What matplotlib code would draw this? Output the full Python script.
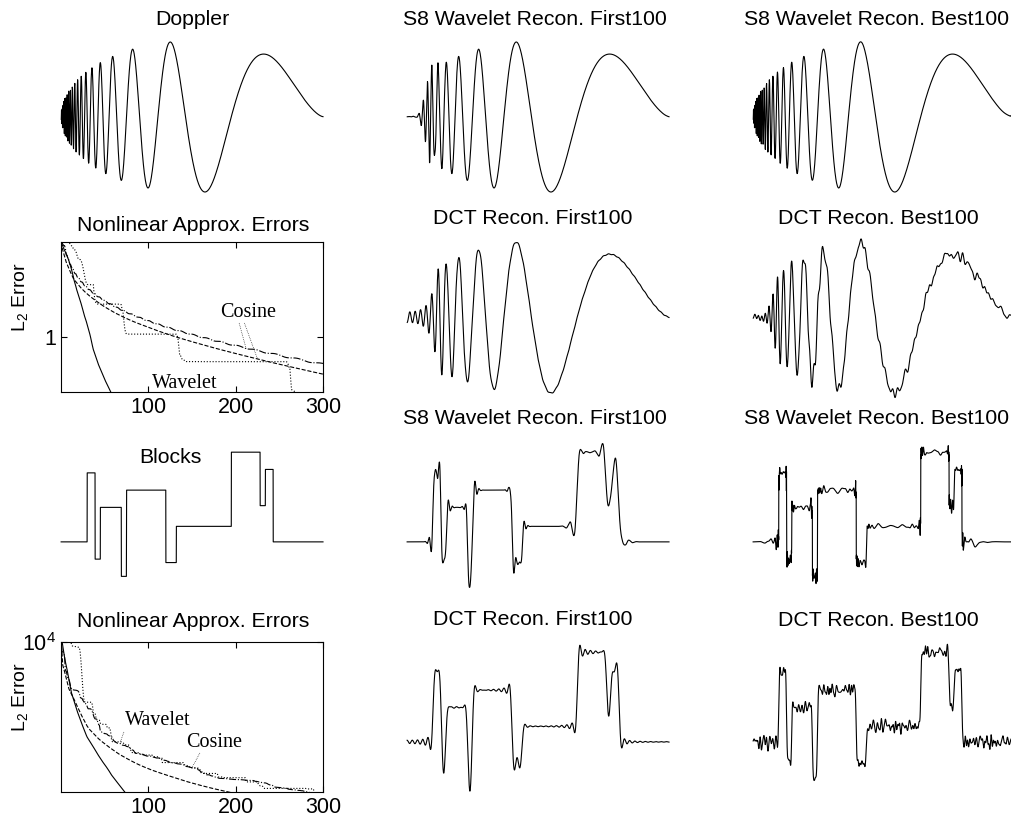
import numpy as np
import matplotlib
matplotlib.use("Agg")
import matplotlib.pyplot as plt

plt.rcParams['font.family'] = ['Liberation Sans', 'DejaVu Sans']
plt.rcParams['mathtext.fontset'] = 'custom'
plt.rcParams['mathtext.rm'] = 'Liberation Sans'
plt.rcParams['mathtext.default'] = 'regular'

# ---- signal definitions (WaveLab test signals) ----
N_DOP = 1024
N_BLK = 2048
N_KEEP = 100
K_MAX = 300
COARSE = 5
BLOCK_POS = [0.10, 0.13, 0.15, 0.23, 0.25, 0.40, 0.44, 0.65, 0.76, 0.78, 0.81]
BLOCK_HGT = [4.0, -5.0, 3.0, -4.0, 5.0, -4.2, 2.1, 4.3, -3.1, 2.1, -4.2]
DOP_EPS = 0.05
DOP_FREQ = 1.05
SYMMLET8 = [-0.0033824159510050025955, -0.00054213233180001068935,
            0.031695087811525991431, 0.0076074873249766081919,
            -0.14329423835127266284, -0.061273359067811077843,
            0.48135965125905339159, 0.77718575169962802862,
            0.36444189483617893676, -0.051945838107881800736,
            -0.027219029917103486322, 0.049137179673730286787,
            0.0038087520138944894631, -0.014952258337062199118,
            -0.00030292051472413308126, 0.0018899503327676891843]


def doppler(n):
    t = np.arange(1, n + 1) / n
    return t, np.sqrt(t * (1 - t)) * np.sin(2 * np.pi * DOP_FREQ / (t + DOP_EPS))


def blocks(n):
    t = np.arange(1, n + 1) / n
    sig = np.zeros(n)
    for p, h in zip(BLOCK_POS, BLOCK_HGT):
        sig += (1 + np.sign(t - p)) * h / 2
    return t, sig


def dct_matrix(n):
    k = np.arange(n)[:, None]
    i = np.arange(n)[None, :]
    c = np.sqrt(2.0 / n) * np.cos(np.pi * k * (i + 0.5) / n)
    c[0] /= np.sqrt(2)
    return c


def wavelet_levels(n):
    # periodised orthogonal analysis step for every level, finest first
    h = np.array(SYMMLET8)
    h = h / h.sum() * np.sqrt(2)
    g = (-1) ** np.arange(len(h)) * h[::-1]
    off = len(h) // 2 - 1
    mats = []
    m = n
    while m > 2 ** COARSE:
        s = np.zeros((m, m))
        for i in range(m // 2):
            for k in range(len(h)):
                c = (2 * i + k - off) % m
                s[i, c] += h[k]
                s[m // 2 + i, c] += g[k]
        mats.append(s)
        m //= 2
    return mats


def fwt(x, mats):
    y = x.copy()
    for s in mats:
        m = s.shape[0]
        y[:m] = s @ y[:m]
    return y


def iwt(c, mats):
    y = c.copy()
    for s in reversed(mats):
        m = s.shape[0]
        y[:m] = s.T @ y[:m]
    return y


def keep_first(c, k):
    d = np.zeros_like(c)
    d[:k] = c[:k]
    return d


def keep_best(c, k):
    d = np.zeros_like(c)
    idx = np.argsort(-np.abs(c))[:k]
    d[idx] = c[idx]
    return d


def err_curve(c, best):
    e = c ** 2
    if best:
        e = np.sort(e)[::-1]
    tot = e.sum()
    r = tot - np.concatenate([[0.0], np.cumsum(e)])
    return np.maximum(r[:K_MAX + 1], 1e-12)


def analyse(sig):
    n = len(sig)
    mats = wavelet_levels(n)
    dm = dct_matrix(n)
    wc = fwt(sig, mats)
    cc = dm @ sig
    rec = {
        'w_first': iwt(keep_first(wc, N_KEEP), mats),
        'w_best': iwt(keep_best(wc, N_KEEP), mats),
        'c_first': dm.T @ keep_first(cc, N_KEEP),
        'c_best': dm.T @ keep_best(cc, N_KEEP),
    }
    errs = {
        'w_nl': err_curve(wc, True),
        'w_lin': err_curve(wc, False),
        'c_nl': err_curve(cc, True),
        'c_lin': err_curve(cc, False),
    }
    return rec, errs


t_d, s_d = doppler(N_DOP)
t_b, s_b = blocks(N_BLK)
rec_d, err_d = analyse(s_d)
rec_b, err_b = analyse(s_b)

W, H = 1011, 827
fig = plt.figure(figsize=(W / 100, H / 100), dpi=100)


def px_axes(x0, x1, y0, y1):
    return fig.add_axes([x0 / W, 1 - y1 / H, (x1 - x0) / W, (y1 - y0) / H])


COLS = [(61, 323), (407, 669), (753, 1011)]
LW = 0.8


def sig_panel(col, y0, y1, t, y, ylim):
    ax = px_axes(COLS[col][0], COLS[col][1], y0, y1)
    ax.plot(t, y, color='k', lw=LW, clip_on=False)
    ax.set_xlim(0, 1)
    ax.set_ylim(*ylim)
    ax.axis('off')
    return ax


dlim = (s_d.min(), s_d.max())
sig_panel(0, 42, 192, t_d, s_d, dlim)
sig_panel(1, 42, 192, t_d, rec_d['w_first'], dlim)
sig_panel(2, 42, 192, t_d, rec_d['w_best'], dlim)
sig_panel(1, 242, 393, t_d, rec_d['c_first'], dlim)
sig_panel(2, 242, 393, t_d, rec_d['c_best'], dlim)

blim = (-2.5, 5.5)
sig_panel(0, 447, 585, t_b, s_b, blim)
sig_panel(1, 447, 585, t_b, rec_b['w_first'], blim)
sig_panel(2, 447, 585, t_b, rec_b['w_best'], blim)
sig_panel(1, 647, 785, t_b, rec_b['c_first'], blim)
sig_panel(2, 647, 785, t_b, rec_b['c_best'], blim)

k = np.arange(K_MAX + 1)
STYLES = {'w_nl': '-', 'c_nl': '--', 'c_lin': '-.', 'w_lin': ':'}
SERIF = ['Liberation Serif', 'DejaVu Serif']


def err_panel(y0, y1, errs, ylim, ytick, ylab):
    ax = px_axes(61, 323, y0, y1)
    for key, ls in STYLES.items():
        ax.plot(k, errs[key], color='k', ls=ls, lw=LW)
    ax.set_yscale('log')
    ax.set_xlim(0, K_MAX)
    ax.set_ylim(*ylim)
    ax.set_xticks([100, 200, 300])
    ax.set_yticks([ytick])
    ax.set_yticklabels([ylab])
    ax.yaxis.set_minor_locator(matplotlib.ticker.NullLocator())
    ax.tick_params(direction='in', top=True, right=True, labelsize=15.5, length=4)
    ax.set_ylabel('L$_2$ Error', fontsize=14)
    ax.yaxis.set_label_coords(-0.12, 0.63)
    return ax


def label(ax, errs, text, xy_frac, targets):
    ax.text(xy_frac[0], xy_frac[1], text, transform=ax.transAxes,
            family=SERIF, fontsize=14.5, va='center', ha='left')
    for start, kk, key in targets:
        p0 = ax.transData.inverted().transform(ax.transAxes.transform(start))
        ax.plot([p0[0], kk], [p0[1], errs[key][kk]], color='k', lw=0.5, ls=':')


ax_e1 = err_panel(242, 392, err_d, (err_d['w_nl'][57], err_d['w_nl'][0]), 1, '1')
label(ax_e1, err_d, 'Cosine', (0.606, 0.533),
      [((0.68, 0.46), 212, 'c_lin'), ((0.70, 0.46), 225, 'c_nl')])
label(ax_e1, err_d, 'Wavelet', (0.346, 0.06), [])

ax_e2 = err_panel(642, 792, err_b, (err_b['w_nl'][73], 1e4), 1e4, '$10^4$')
label(ax_e2, err_b, 'Wavelet', (0.244, 0.478), [((0.24, 0.40), 68, 'w_lin')])
label(ax_e2, err_b, 'Cosine', (0.479, 0.329), [((0.53, 0.26), 150, 'c_lin')])

TS = 15.3
titles = [
    (192, 25, 'Doppler'), (535, 25, 'S8 Wavelet Recon. First100'),
    (877, 25, 'S8 Wavelet Recon. Best100'),
    (193, 231, 'Nonlinear Approx. Errors'), (533, 224, 'DCT Recon. First100'),
    (878, 224, 'DCT Recon. Best100'),
    (535, 424, 'S8 Wavelet Recon. First100'), (877, 424, 'S8 Wavelet Recon. Best100'),
    (170, 463, 'Blocks'),
    (193, 627, 'Nonlinear Approx. Errors'), (533, 625, 'DCT Recon. First100'),
    (878, 626, 'DCT Recon. Best100'),
]
for x, y, s in titles:
    fig.text(x / W, 1 - y / H, s, ha='center', va='baseline', fontsize=TS)

fig.savefig('out.png', dpi=100)
